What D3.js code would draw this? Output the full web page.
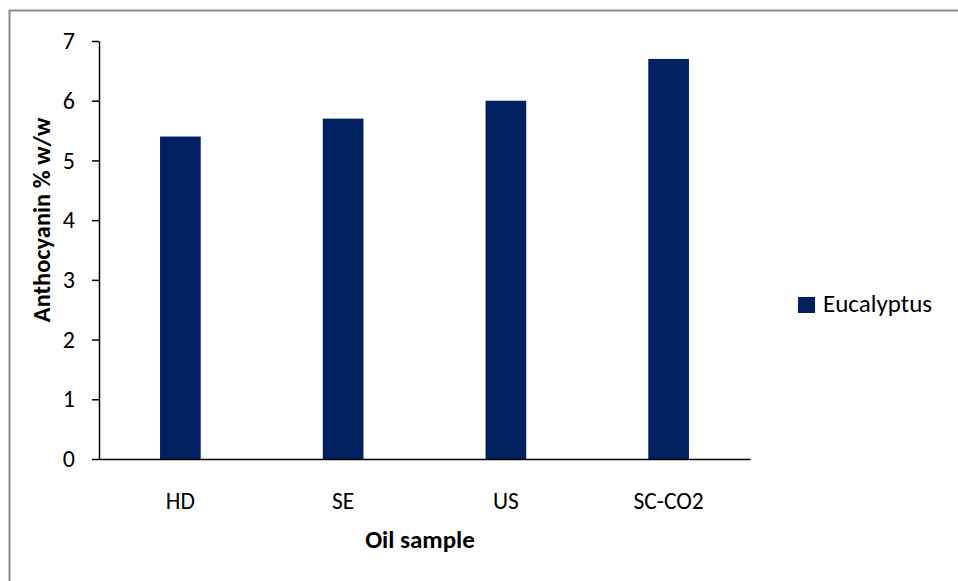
<!DOCTYPE html>
<html>
<head>
<meta charset="utf-8">
<script src="https://cdn.jsdelivr.net/npm/d3@7/dist/d3.min.js"></script>
<style>
  html, body { margin: 0; padding: 0; background: #fff; }
  svg { display: block; }
  text { font-family: Carlito, Calibri, Lato, "Open Sans", sans-serif; fill: #000; }
</style>
</head>
<body>
<svg id="chart" width="958" height="581"></svg>
<script>
// Oil extraction methods and anthocyanin content (% w/w)
const categories = ["HD", "SE", "US", "SC-CO2"];
const seriesName = "Eucalyptus";
const values = [5.4, 5.7, 6.0, 6.7];
const yTicks = [0, 1, 2, 3, 4, 5, 6, 7];
const yTitle = "Anthocyanin % w/w";
const xTitle = "Oil sample";

const barColor = "#002060";
const svg = d3.select("#chart");

// chart area frame
svg.append("rect")
  .attr("x", 9.5).attr("y", 10.5)
  .attr("width", 1000).attr("height", 1000)
  .attr("fill", "none").attr("stroke", "#8c8c8c").attr("stroke-width", 2);

const plot = { left: 99, right: 750, top: 41, bottom: 459 };

const x = d3.scaleBand()
  .domain(categories)
  .range([plot.left, plot.right])
  .paddingInner(0.75)
  .paddingOuter(0.375);

const y = d3.scaleLinear()
  .domain([0, 7])
  .range([plot.bottom, plot.top]);

// bars
svg.append("g").selectAll("rect")
  .data(values)
  .join("rect")
  .attr("x", (d, i) => x(categories[i]))
  .attr("y", d => y(d))
  .attr("width", x.bandwidth())
  .attr("height", d => y(0) - y(d))
  .attr("fill", barColor);

// y axis
const yAxis = svg.append("g")
  .attr("transform", `translate(${plot.left},0)`)
  .call(d3.axisLeft(y).tickValues(yTicks).tickFormat(d3.format("d"))
    .tickSize(7).tickSizeOuter(0).tickPadding(17));
yAxis.selectAll("path, line").attr("stroke", "#000").attr("stroke-width", 1.5);
yAxis.selectAll("text").attr("font-size", 24).attr("font-family", null);

// x axis
const xAxis = svg.append("g")
  .attr("transform", `translate(0,${plot.bottom})`)
  .call(d3.axisBottom(x).tickSize(0).tickSizeOuter(0).tickPadding(33));
xAxis.select(".domain").attr("stroke", "#000").attr("stroke-width", 1.5);
xAxis.selectAll("text").attr("font-size", 23.5).attr("font-family", null);

// axis titles
svg.append("text")
  .attr("transform", "translate(50,220) rotate(-90)")
  .attr("text-anchor", "middle")
  .attr("font-size", 24.5).attr("font-weight", "bold")
  .text(yTitle);

svg.append("text")
  .attr("x", 420).attr("y", 548)
  .attr("text-anchor", "middle")
  .attr("font-size", 25).attr("font-weight", "bold")
  .text(xTitle);

// legend
const legend = svg.append("g").attr("transform", "translate(798,297)");
legend.append("rect").attr("width", 17).attr("height", 16).attr("fill", barColor);
legend.append("text").attr("x", 25).attr("y", 15).attr("font-size", 25).text(seriesName);
</script>
</body>
</html>
